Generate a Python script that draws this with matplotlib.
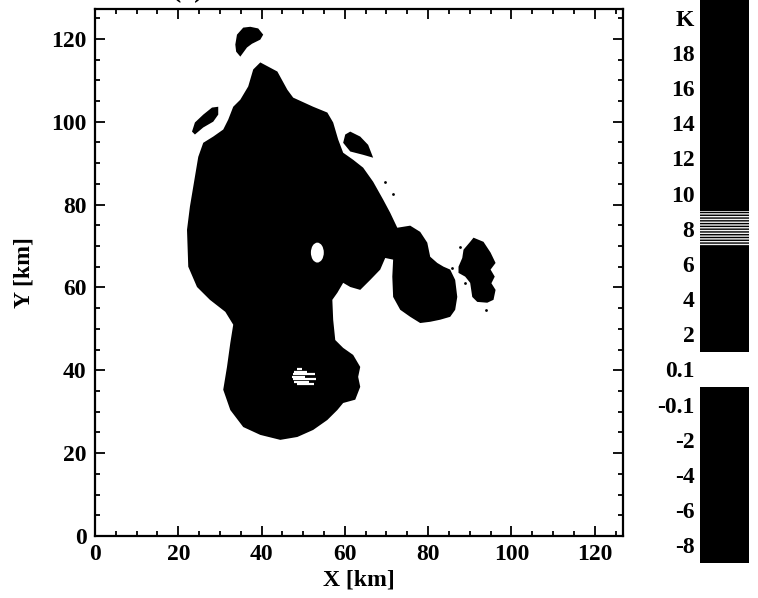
import numpy as np
import matplotlib
matplotlib.use("Agg")
import matplotlib.pyplot as plt
from matplotlib.ticker import MultipleLocator
from matplotlib.patches import Ellipse

plt.rcParams['font.family'] = ['Liberation Serif', 'DejaVu Serif']
plt.rcParams['font.weight'] = 'bold'

# ---- data: outlines of the shaded areas (km) ----
main_x = [39.7, 43.8, 46.2, 47.6, 52.4, 55.8, 57.2, 58.4, 59.6, 62.0, 64.4, 66.8, 69.2, 70.9, 72.6,
          75.7, 78.1, 79.8, 80.5, 82.2, 83.7, 85.3, 86.5, 87.0, 86.5, 85.3, 82.9, 80.5, 78.1, 75.7,
          73.3, 71.6, 71.4, 71.6, 69.7, 68.5, 66.1, 63.7, 61.3, 59.6, 58.2, 57.0, 57.2, 57.7, 59.6,
          62.0, 63.7, 63.2, 63.7, 62.5, 59.6, 58.2, 55.8, 52.4, 48.6, 44.5, 39.7, 35.6, 32.5, 30.8,
          31.7, 32.5, 33.2, 31.3, 27.6, 24.5, 22.4, 22.1, 22.8, 24.0, 24.8, 26.0, 28.4, 30.8, 32.0,
          33.2, 34.9, 36.8, 38.0]
main_y = [114.3, 112.1, 107.7, 105.8, 103.6, 102.2, 99.8, 95.7, 92.5, 90.8, 88.9, 85.5, 81.2, 78.0, 74.4,
          74.9, 73.4, 70.8, 67.4, 65.9, 65.0, 64.3, 61.8, 57.7, 54.6, 52.9, 52.2, 51.7, 51.4, 52.9,
          54.6, 57.7, 62.6, 66.7, 67.1, 64.3, 61.8, 59.4, 60.1, 61.1, 58.7, 57.0, 52.2, 47.3, 45.4,
          43.7, 40.8, 38.4, 36.0, 32.9, 32.1, 30.4, 28.0, 25.6, 23.9, 23.2, 24.4, 26.3, 30.4, 35.3,
          40.8, 46.6, 51.0, 54.1, 57.0, 60.1, 65.0, 73.9, 79.5, 86.7, 91.5, 94.9, 96.4, 98.1, 100.5,
          103.6, 105.3, 108.5, 112.6]

east_x = [90.9, 93.3, 95.0, 96.2, 95.0, 96.0, 95.2, 96.2, 95.7, 94.2, 91.8, 90.6, 90.1, 88.9, 87.3, 87.3, 88.2, 88.5, 90.1]
east_y = [72.0, 71.0, 68.4, 65.9, 64.3, 62.6, 61.0, 59.4, 57.0, 56.3, 56.5, 57.7, 61.1, 62.6, 63.5, 65.0, 67.1, 69.1, 71.0]

top_x = [37.3, 39.2, 40.4, 39.7, 37.7, 36.5, 34.9, 33.9, 33.7, 34.1, 35.6]
top_y = [122.9, 122.5, 121.0, 119.8, 118.8, 117.9, 115.7, 116.9, 118.6, 121.0, 122.7]

west_x = [29.6, 29.6, 28.4, 26.0, 24.0, 23.3, 24.0, 26.0, 28.1]
west_y = [103.6, 101.7, 100.0, 98.6, 96.9, 97.6, 99.8, 101.7, 103.4]

ne_x = [61.3, 63.7, 65.6, 66.8, 64.4, 61.3, 59.6, 60.1]
ne_y = [97.6, 96.4, 94.4, 91.3, 92.0, 92.8, 94.9, 96.9]

dots_x = [69.7, 71.6, 87.7, 88.9, 93.8, 85.8]
dots_y = [85.5, 82.6, 69.8, 61.1, 54.6, 64.7]

hole_center = (53.4, 68.4)
hole_size = (3.1, 4.8)

streak_y = [36.6, 37.2, 37.8, 38.4, 39.0, 39.6, 40.2]
streak_x0 = [48.5, 47.8, 47.5, 47.3, 47.5, 47.8, 48.5]
streak_x1 = [52.5, 51.5, 53.0, 50.5, 52.8, 51.0, 49.8]

# colour bar boxes (top to bottom): label and fill of each box
cb_labels = ['K', '18', '16', '14', '12', '10', '8', '6', '4', '2', '0.1', '-0.1', '-2', '-4', '-6', '-8']
cb_fill = ['k', 'k', 'k', 'k', 'k', 'k', 'hatch', 'k', 'k', 'k', 'w', 'k', 'k', 'k', 'k', 'k']

xticks_major = [0, 20, 40, 60, 80, 100, 120]

fig = plt.figure(figsize=(7.58, 5.98), dpi=100)
ax = fig.add_axes([0.1253, 0.1037, 0.6966, 0.8813])

for xs, ys in [(main_x, main_y), (east_x, east_y), (top_x, top_y), (west_x, west_y), (ne_x, ne_y)]:
    ax.fill(xs, ys, color='black', lw=0)
ax.scatter(dots_x, dots_y, s=4, color='black', lw=0)
ax.add_patch(Ellipse(hole_center, hole_size[0], hole_size[1], color='white', lw=0))
for y, a, b in zip(streak_y, streak_x0, streak_x1):
    ax.plot([a, b], [y, y], color='white', lw=1.6, solid_capstyle='butt')

ax.set_xlim(0, 126.8)
ax.set_ylim(0, 127.2)
ax.set_xticks(xticks_major)
ax.set_yticks(xticks_major)
ax.xaxis.set_minor_locator(MultipleLocator(5))
ax.yaxis.set_minor_locator(MultipleLocator(5))
ax.tick_params(which='both', direction='in', top=True, right=True, width=1.3)
ax.tick_params(which='major', length=7, labelsize=17, pad=6)
ax.tick_params(which='minor', length=3.5)
for s in ax.spines.values():
    s.set_linewidth(1.6)
ax.set_xlabel('X [km]', fontsize=17, fontweight='bold', labelpad=3)
ax.set_ylabel('Y [km]', fontsize=17, fontweight='bold', labelpad=12)
ax.text(0.177, 1.012, '(a)', transform=ax.transAxes, fontsize=20, fontweight='bold', va='bottom', ha='center')

# colour bar
cax = fig.add_axes([700 / 758, 1 - 563 / 598, 49 / 758, 563 / 598])
n = len(cb_labels)
for i, c in enumerate(cb_fill):
    y0 = n - 1 - i
    if c == 'hatch':
        cax.bar(0.5, 1, bottom=y0, width=1, color='#f2f2f2', edgecolor='black', hatch='------', lw=0)
    else:
        cax.bar(0.5, 1, bottom=y0, width=1, color=c, lw=0)
cax.set_xlim(0, 1)
cax.set_ylim(0, n)
cax.set_xticks([])
cax.set_yticks(np.arange(n) + 0.5)
cax.set_yticklabels(cb_labels[::-1])
cax.tick_params(axis='y', length=0, labelsize=17, pad=4)
for s in cax.spines.values():
    s.set_visible(False)

fig.savefig('out.png', dpi=100)
